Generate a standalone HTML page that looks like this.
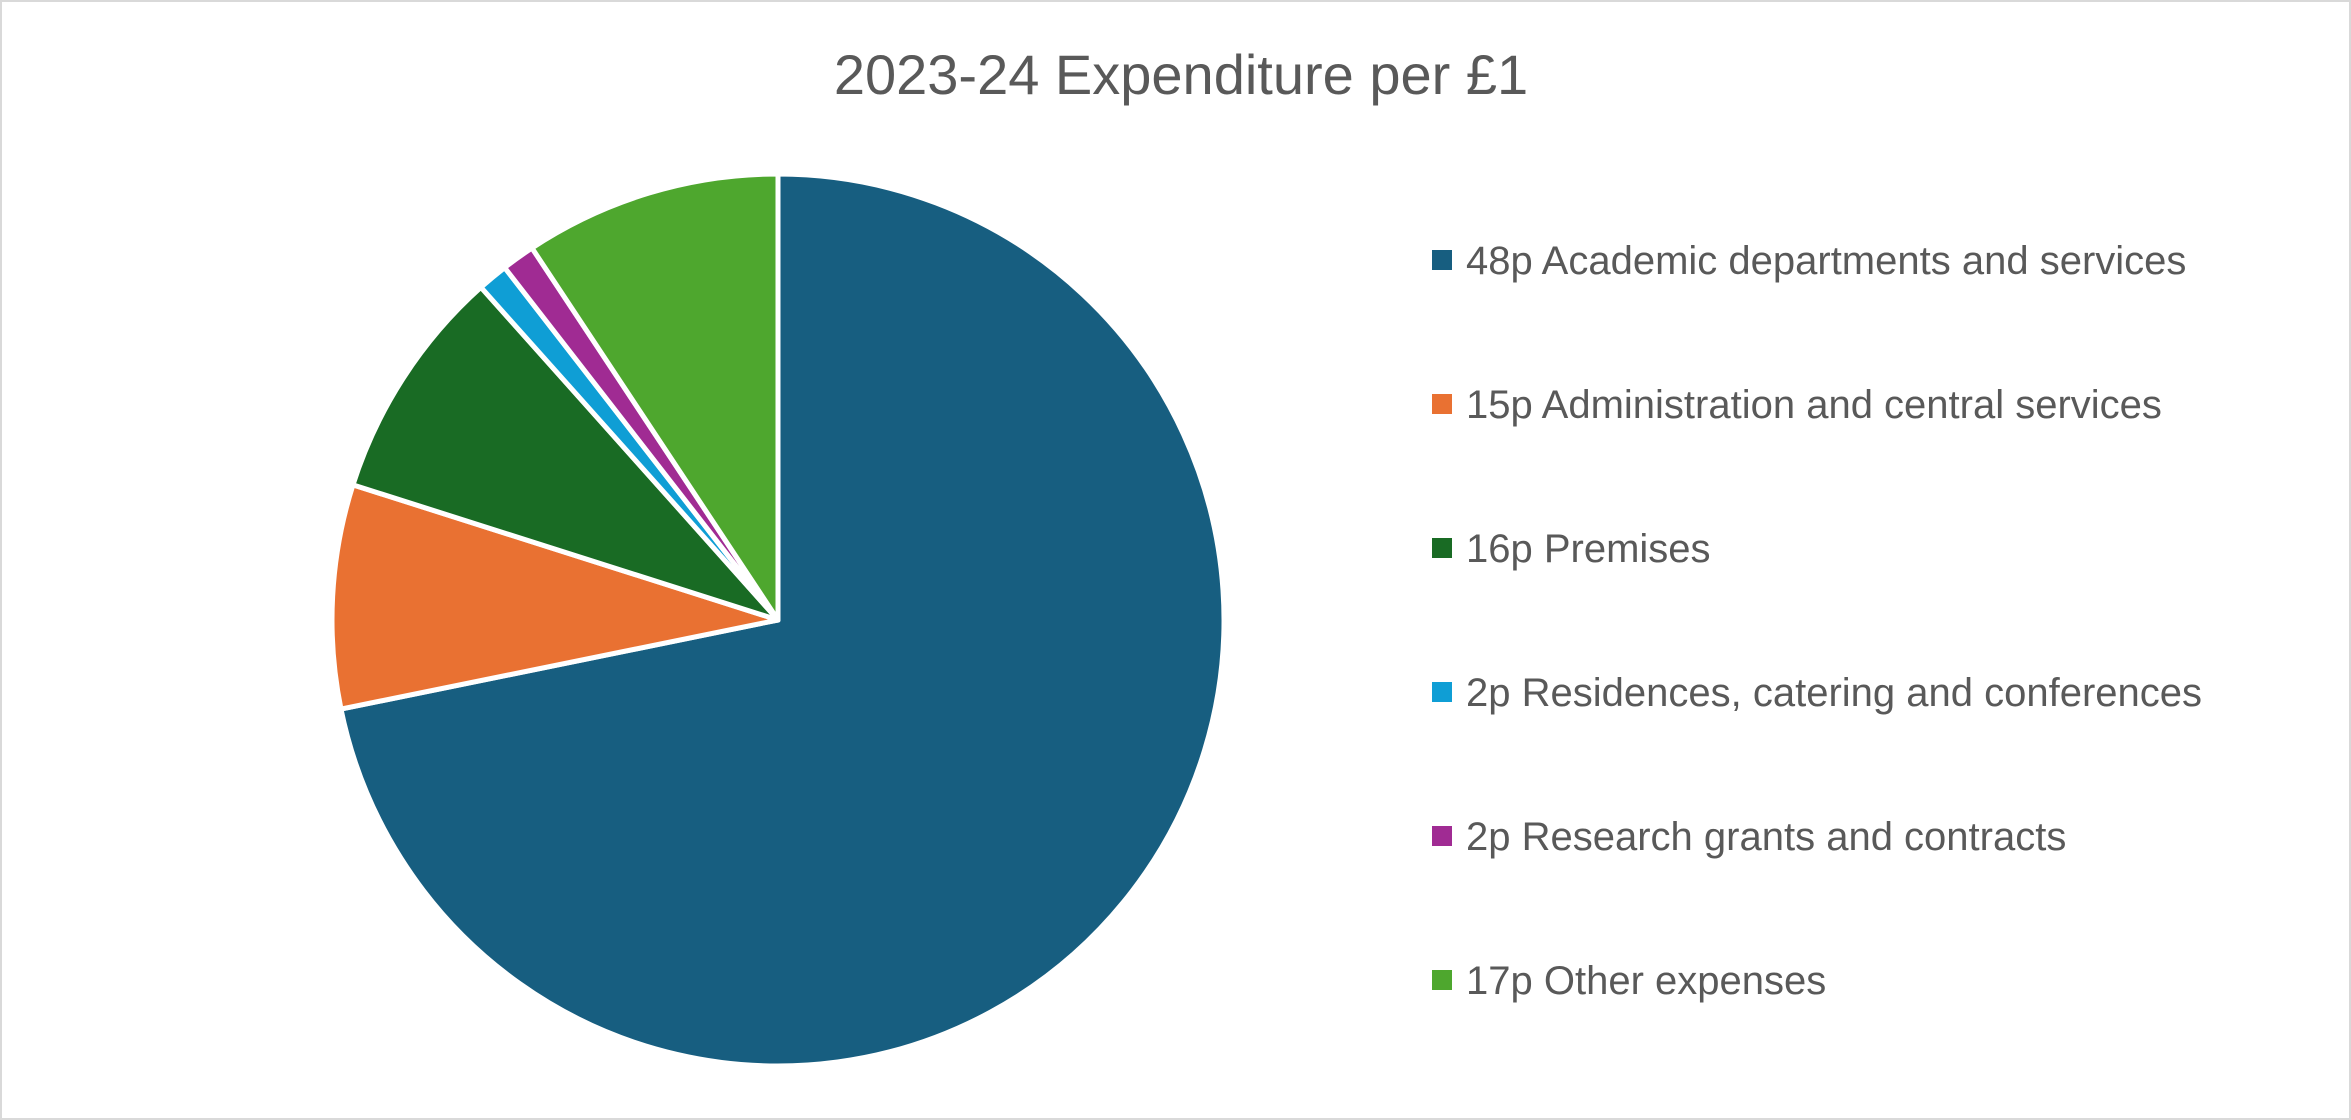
<!DOCTYPE html>
<html><head><meta charset="utf-8"><style>
html,body{margin:0;padding:0;background:#fff;}
svg{display:block;}
text{font-family:"Liberation Sans",sans-serif;fill:#595959;}
</style></head><body>
<svg id="chart" width="2351" height="1120" viewBox="0 0 2351 1120">
<rect x="1" y="1" width="2349" height="1118" fill="#fff" stroke="#d9d9d9" stroke-width="2"/>
<text x="1181" y="94" font-size="56" text-anchor="middle">2023-24 Expenditure per £1</text>
<g id="slices"></g>
<g id="legend"></g>
</svg>
<script>
const categories = ["48p Academic departments and services","15p Administration and central services","16p Premises","2p  Residences, catering and conferences","2p  Research grants and contracts","17p Other expenses"];
const values = [71.8, 8.1, 8.5, 1.1, 1.2, 9.3];
const colors = ["#175E80","#E97132","#196B24","#0F9ED5","#A02B93","#4EA72E"];
const ns="http://www.w3.org/2000/svg";
const cx=778, cy=620, r=446;
const total=values.reduce((a,b)=>a+b,0);
const sg=document.getElementById('slices');
let a0=0;
function pt(a){return [cx+r*Math.sin(a), cy-r*Math.cos(a)];}
values.forEach((v,i)=>{
  const a1=a0+v/total*2*Math.PI;
  const [x0,y0]=pt(a0),[x1,y1]=pt(a1);
  const p=document.createElementNS(ns,'path');
  p.setAttribute('d',`M${cx},${cy}L${x0},${y0}A${r},${r} 0 ${a1-a0>Math.PI?1:0} 1 ${x1},${y1}Z`);
  p.setAttribute('fill',colors[i]);p.setAttribute('stroke','#fff');p.setAttribute('stroke-width','5');p.setAttribute('stroke-linejoin','round');
  
  
  sg.appendChild(p);
  a0=a1;
});
const lg=document.getElementById('legend');
categories.forEach((c,i)=>{
  const y=260+i*144;
  const m=document.createElementNS(ns,'rect');
  m.setAttribute('x',1432);m.setAttribute('y',y-10);m.setAttribute('width',20);m.setAttribute('height',20);m.setAttribute('fill',colors[i]);
  
  
  lg.appendChild(m);
  const t=document.createElementNS(ns,'text');
  t.setAttribute('x',1466);t.setAttribute('y',y+14);t.setAttribute('font-size','40');
  t.textContent=c;
  
  
  lg.appendChild(t);
});
</script>
</body></html>
